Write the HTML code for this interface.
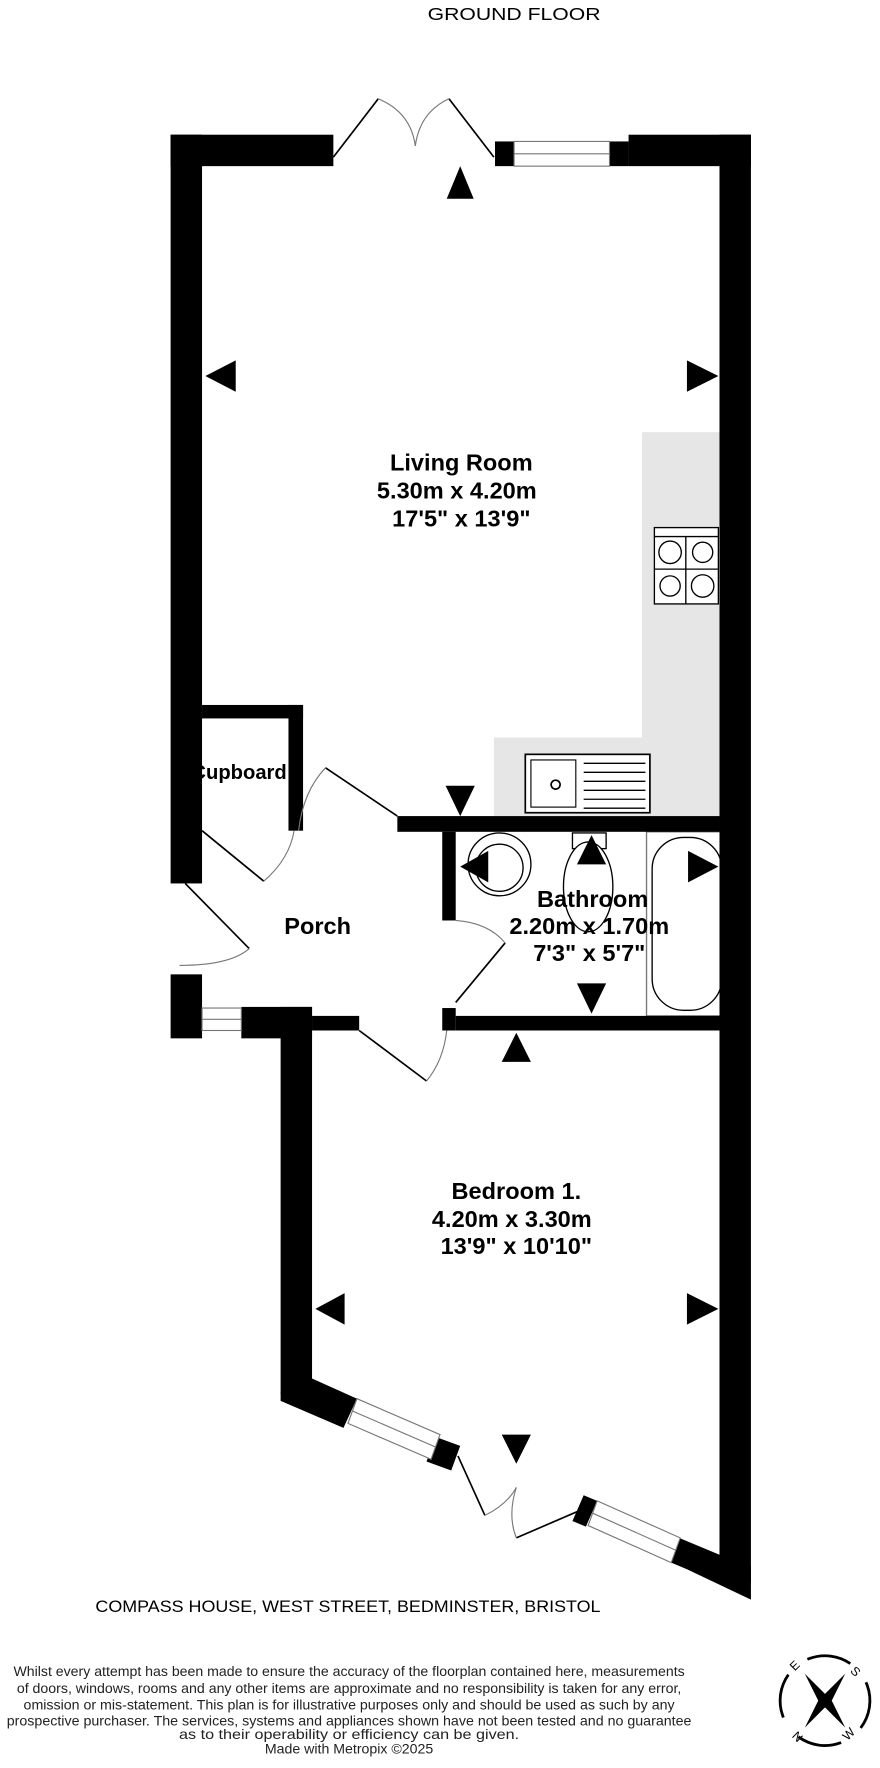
<!DOCTYPE html>
<html><head><meta charset="utf-8"><style>
html,body{margin:0;padding:0;background:#fff;}
svg{display:block;}
text{font-family:"Liberation Sans",sans-serif;}
</style></head><body>
<svg width="880" height="1768" viewBox="0 0 784 1575" preserveAspectRatio="none" xmlns="http://www.w3.org/2000/svg">
<text x="458" y="18" font-size="16" text-anchor="middle" textLength="154" lengthAdjust="spacingAndGlyphs">GROUND FLOOR</text>

<!-- kitchen grey -->
<rect x="572" y="385" width="69" height="342" fill="#e6e6e6"/>
<rect x="440" y="657" width="201" height="70" fill="#e6e6e6"/>

<!-- hob -->
<g fill="#fff" stroke="#000" stroke-width="1.2">
<rect x="583" y="470" width="57" height="68"/>
<line x1="583" y1="478" x2="640" y2="478"/>
<circle cx="597" cy="492" r="10"/><circle cx="626" cy="492" r="9"/>
<circle cx="597" cy="522" r="9"/><circle cx="626" cy="522" r="10"/>
<line x1="611" y1="478" x2="611" y2="538"/><line x1="583" y1="507" x2="640" y2="507"/>
</g>
<!-- sink -->
<g fill="#fff" stroke="#000" stroke-width="1.5">
<rect x="468" y="672" width="111" height="52"/>
<rect x="473" y="677" width="40" height="42" stroke-width="1"/>
<circle cx="495" cy="699" r="4"/>
</g>
<g stroke="#000" stroke-width="1.2">
<line x1="520" y1="680" x2="575" y2="680"/><line x1="520" y1="688" x2="575" y2="688"/>
<line x1="520" y1="696" x2="575" y2="696"/><line x1="520" y1="704" x2="575" y2="704"/>
<line x1="520" y1="712" x2="575" y2="712"/><line x1="520" y1="720" x2="575" y2="720"/>
</g>
<!-- bathroom fixtures -->
<g fill="#fff" stroke="#000" stroke-width="1.2">
<rect x="576" y="741" width="72" height="164" stroke="#777"/>
<rect x="581" y="746" width="62" height="154" rx="28"/>
<circle cx="445" cy="770" r="28"/>
<circle cx="445" cy="773" r="21"/>
<rect x="510" y="742" width="30" height="14"/>
<ellipse cx="524" cy="790" rx="22" ry="40"/>
</g>

<!-- room labels -->
<g font-weight="bold" font-size="21" text-anchor="middle" fill="#000">
<text x="411" y="419">Living Room</text>
<text x="407" y="444">5.30m  x 4.20m</text>
<text x="411" y="469">17'5"  x 13'9"</text>
<text x="213" y="694" font-size="18">Cupboard</text>
<text x="283" y="832">Porch</text>
<text x="528" y="808">Bathroom</text>
<text x="525" y="832">2.20m  x 1.70m</text>
<text x="525" y="856">7'3"  x 5'7"</text>
<text x="460" y="1068">Bedroom 1.</text>
<text x="456" y="1093">4.20m  x 3.30m</text>
<text x="460" y="1117">13'9"  x 10'10"</text>
</g>

<g fill="#000">
<!-- living room walls -->
<rect x="152" y="120" width="145" height="28"/>
<rect x="152" y="120" width="28" height="667"/>
<rect x="560" y="120" width="109" height="28"/>
<rect x="641" y="120" width="28" height="1290"/>
<rect x="441" y="126" width="17" height="22"/>
<rect x="543" y="126" width="17" height="22"/>
<!-- cupboard -->
<rect x="180" y="628" width="90" height="12"/>
<rect x="257" y="628" width="13" height="112"/>
<!-- bathroom top wall -->
<rect x="354" y="727" width="287" height="14"/>
<rect x="394" y="741" width="12" height="79"/>
<rect x="394" y="898" width="12" height="20"/>
<rect x="406" y="905" width="249" height="13"/>
<!-- porch lower left -->
<rect x="152" y="868" width="28" height="57"/>
<rect x="215" y="897" width="63" height="28"/>
<rect x="278" y="905" width="42" height="13"/>
<rect x="250" y="897" width="28" height="345"/>
<!-- bay -->
<polygon points="250,1240 278,1228 318,1246 306,1272 250,1248"/>
<polygon points="388,1280 410,1288 402,1310 380,1302"/>
<polygon points="520,1332 532,1337 522,1360 510,1355"/>
<polygon points="605,1370 641,1385 641,1395 669,1395 669,1425 612,1398 598,1392"/>
<!-- arrows -->
<polygon points="410,148 398,177 422,177"/>
<polygon points="183,335 210,321 210,349"/>
<polygon points="640,335 612,321 612,349"/>
<polygon points="410,727 397,700 423,700"/>
<polygon points="410,772 435,758 435,786"/>
<polygon points="527,744 514,770 540,770"/>
<polygon points="640,772 613,758 613,786"/>
<polygon points="527,903 514,876 540,876"/>
<polygon points="460,920 447,946 473,946"/>
<polygon points="281,1166 307,1152 307,1180"/>
<polygon points="640,1166 612,1152 612,1180"/>
<polygon points="460,1304 447,1278 473,1278"/>
</g>

<!-- windows -->
<g fill="#fff" stroke="#777" stroke-width="1">
<rect x="458" y="126" width="85" height="22"/>
<line x1="458" y1="137" x2="543" y2="137"/>
<rect x="180" y="898" width="35" height="20"/>
<line x1="180" y1="908" x2="215" y2="908"/>
<polygon points="318,1246 392,1278 384,1300 310,1268"/>
<line x1="314" y1="1257" x2="388" y2="1289"/>
<polygon points="532,1337 606,1370 598,1392 524,1359"/>
<line x1="528" y1="1348" x2="602" y2="1381"/>
</g>

<!-- doors -->
<g fill="none" stroke="#000" stroke-width="1.5">
<line x1="297" y1="140" x2="337" y2="88"/>
<line x1="440" y1="140" x2="400" y2="88"/>
<line x1="180" y1="740" x2="235" y2="785"/>
<line x1="354" y1="727" x2="290" y2="684"/>
<line x1="165" y1="787" x2="222" y2="845"/>
<line x1="406" y1="893" x2="450" y2="840"/>
<line x1="320" y1="918" x2="380" y2="963"/>
<line x1="408" y1="1297" x2="432" y2="1350"/>
<line x1="460" y1="1370" x2="518" y2="1345"/>
</g>
<g fill="none" stroke="#777" stroke-width="1">
<path d="M337,88 Q366,100 370,130"/>
<path d="M400,88 Q374,100 370,130"/>
<path d="M235,785 Q258,765 262,740"/>
<path d="M290,684 Q270,705 266,740"/>
<path d="M222,845 Q205,860 160,860"/>
<path d="M406,820 Q435,822 450,840"/>
<path d="M380,963 Q395,945 398,918"/>
<path d="M432,1350 Q452,1340 460,1325"/>
<path d="M460,1370 Q452,1350 460,1325"/>
</g>

<text x="310" y="1436" font-size="15" text-anchor="middle" textLength="450" lengthAdjust="spacingAndGlyphs">COMPASS HOUSE, WEST STREET, BEDMINSTER, BRISTOL</text>

<g font-size="12.5" text-anchor="middle" fill="#222">
<text x="311" y="1493" textLength="598" lengthAdjust="spacingAndGlyphs">Whilst every attempt has been made to ensure the accuracy of the floorplan contained here, measurements</text>
<text x="311" y="1508" textLength="592" lengthAdjust="spacingAndGlyphs">of doors, windows, rooms and any other items are approximate and no responsibility is taken for any error,</text>
<text x="311" y="1523" textLength="580" lengthAdjust="spacingAndGlyphs">omission or mis-statement. This plan is for illustrative purposes only and should be used as such by any</text>
<text x="311" y="1537" textLength="610" lengthAdjust="spacingAndGlyphs">prospective purchaser. The services, systems and appliances shown have not been tested and no guarantee</text>
<text x="311" y="1549" textLength="303" lengthAdjust="spacingAndGlyphs">as to their operability or efficiency can be given.</text>
<text x="311" y="1562" textLength="150" lengthAdjust="spacingAndGlyphs">Made with Metropix ©2025</text>
</g>

<!-- compass -->
<g transform="translate(735,1515)">
<circle r="40" fill="none" stroke="#000" stroke-width="2.5" stroke-dasharray="40 22" transform="rotate(-20)"/>
<polygon points="-18,-24 0,-6 18,-24 6,0 18,24 0,6 -18,24 -6,0" fill="#000"/>
<text x="-27" y="-26" font-size="11" transform="rotate(-45 -27 -26)">E</text>
<text x="22" y="-26" font-size="11" transform="rotate(45 22 -26)">S</text>
<text x="-30" y="32" font-size="11" transform="rotate(45 -30 32)">N</text>
<text x="20" y="36" font-size="11" transform="rotate(-45 20 36)">W</text>
</g>
</svg>
</body></html>
